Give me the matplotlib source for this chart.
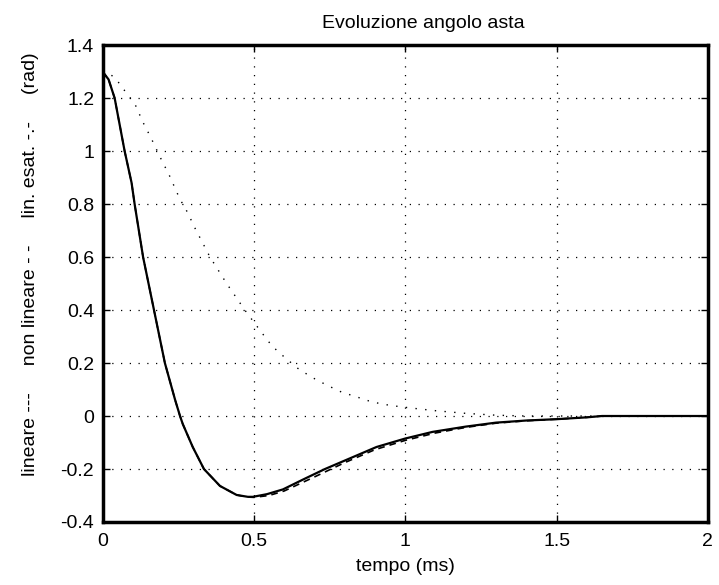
import matplotlib
matplotlib.use('Agg')
import matplotlib.pyplot as plt

plt.rcParams['font.family'] = ['Liberation Sans', 'DejaVu Sans']

# tempo (ms) and angle (rad)
t_lin = [0, 0.02, 0.04, 0.073, 0.096, 0.106, 0.134, 0.17, 0.206, 0.24, 0.256,
         0.265, 0.298, 0.335, 0.388, 0.443, 0.48, 0.497, 0.543, 0.596, 0.662,
         0.735, 0.817, 0.905, 1.0, 1.09, 1.2, 1.3, 1.4, 1.5, 1.6, 1.65, 1.8, 2.0]
y_lin = [1.30, 1.27, 1.20, 1.00, 0.88, 0.80, 0.60, 0.40, 0.20, 0.06, 0.0,
         -0.03, -0.117, -0.20, -0.264, -0.298, -0.305, -0.305, -0.295, -0.277, -0.24,
         -0.20, -0.16, -0.117, -0.085, -0.06, -0.04, -0.025, -0.017, -0.012, -0.005, 0.0, 0.0, 0.0]

t_nonlin = [0, 0.02, 0.04, 0.073, 0.096, 0.106, 0.134, 0.17, 0.206, 0.24, 0.256,
            0.265, 0.298, 0.335, 0.388, 0.443, 0.48, 0.5, 0.55, 0.6, 0.7,
            0.8, 0.9, 1.0, 1.1, 1.2, 1.3, 1.4, 1.5, 1.6, 1.65, 1.8, 2.0]
y_nonlin = [1.30, 1.27, 1.20, 1.00, 0.88, 0.80, 0.60, 0.40, 0.20, 0.06, 0.0,
            -0.03, -0.117, -0.20, -0.264, -0.298, -0.306, -0.307, -0.30, -0.283, -0.23,
            -0.176, -0.127, -0.092, -0.064, -0.043, -0.027, -0.018, -0.012, -0.005, 0.0, 0.0, 0.0]

t_esat = [0, 0.025, 0.047, 0.063, 0.08, 0.11, 0.133, 0.16, 0.195, 0.22, 0.255,
          0.28, 0.305, 0.355, 0.41, 0.47, 0.527, 0.56, 0.60, 0.645, 0.69, 0.74,
          0.79, 0.84, 0.89, 0.95, 1.02, 1.10, 1.2, 1.3, 1.4, 1.7, 2.0]
y_esat = [1.30, 1.29, 1.27, 1.24, 1.22, 1.17, 1.11, 1.05, 0.966, 0.91, 0.82,
          0.77, 0.71, 0.60, 0.50, 0.40, 0.313, 0.264, 0.223, 0.18, 0.147, 0.117,
          0.09, 0.072, 0.053, 0.04, 0.03, 0.02, 0.01, 0.003, 0.0, 0.0, 0.0]

xticks = [0, 0.5, 1, 1.5, 2]
xticklabels = ['0', '0.5', '1', '1.5', '2']
yticks = [-0.4, -0.2, 0, 0.2, 0.4, 0.6, 0.8, 1, 1.2, 1.4]
yticklabels = ['-0.4', '-0.2', '0', '0.2', '0.4', '0.6', '0.8', '1', '1.2', '1.4']

fig = plt.figure(figsize=(7.19, 5.85), dpi=100)
ax = fig.add_axes([0.1426, 0.1077, 0.842, 0.8153])

ax.plot(t_esat, y_esat, color='black', linestyle=(0, (1, 6)), linewidth=1.0)
ax.plot(t_nonlin, y_nonlin, color='black', linestyle=(0, (4, 3)), linewidth=1.2)
ax.plot(t_lin, y_lin, color='black', linestyle='-', linewidth=1.6)

ax.set_xlim(0, 2)
ax.set_ylim(-0.4, 1.4)
ax.set_xticks(xticks)
ax.set_xticklabels(xticklabels)
ax.set_yticks(yticks)
ax.set_yticklabels(yticklabels)
ax.tick_params(direction='in', length=5, width=1, labelsize=14, top=True, right=True, pad=6)
ax.tick_params(axis='x', pad=8)
ax.grid(True, color='black', linestyle=(0, (1, 6)), linewidth=0.9)
for s in ax.spines.values():
    s.set_linewidth(2.5)

ax.set_title('Evoluzione angolo asta', fontsize=14, pad=12, x=0.53)
ax.set_xlabel('tempo (ms)', fontsize=14, labelpad=6)
ax.set_ylabel('lineare ---     non lineare - -     lin. esat. -.-     (rad)', fontsize=14)
ax.yaxis.set_label_coords(-0.105, 0.54)

fig.savefig('out.png', dpi=100)
